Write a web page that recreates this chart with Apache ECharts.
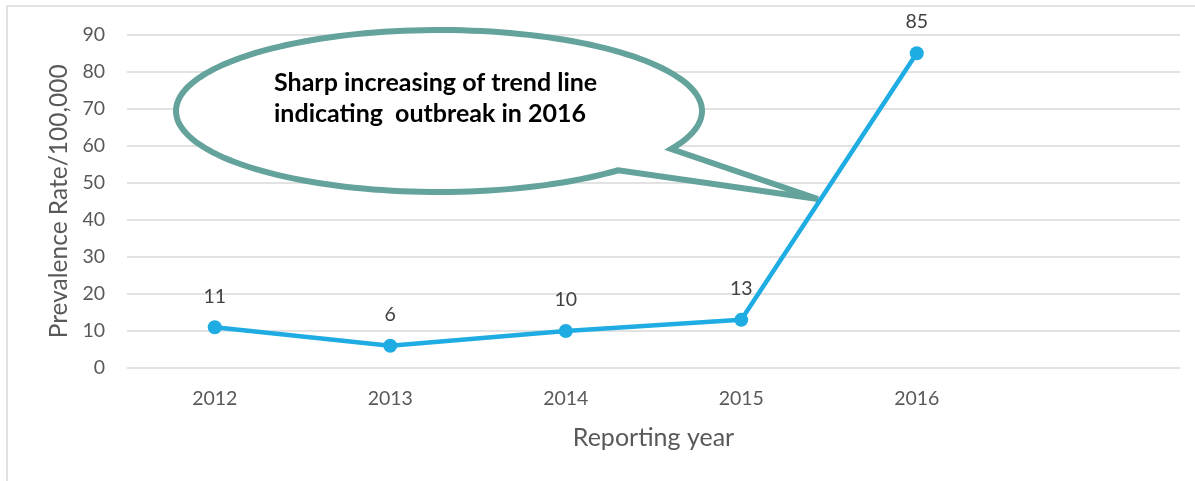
<!DOCTYPE html>
<html>
<head>
<meta charset="utf-8">
<script src="https://cdn.jsdelivr.net/npm/echarts@6/dist/echarts.min.js"></script>
<style>
  html, body { margin: 0; padding: 0; background: #ffffff; }
  #chart { width: 1195px; height: 481px; }
</style>
</head>
<body>
<div id="chart"></div>
<script>
// Reporting years (the trailing blank slot leaves room on the right)
const years = ['2012', '2013', '2014', '2015', '2016', ''];
// Prevalence rate per 100,000 population
const prevalence = [11, 6, 10, 13, 85];
// Value axis ticks
const yMin = 0;
const yMax = 90;
const yStep = 10;

const calloutText = 'Sharp increasing of trend line\nindicating  outbreak in 2016';

// Speech-bubble outline: an elliptical body with a wedge-shaped pointer.
function bubblePoints(cx, cy, rx, ry, fromDeg, toDeg, tip) {
  const pts = [];
  const steps = 160;
  for (let i = 0; i <= steps; i++) {
    const a = (fromDeg + (toDeg - fromDeg) * i / steps) * Math.PI / 180;
    pts.push([cx + rx * Math.cos(a), cy + ry * Math.sin(a)]);
  }
  pts.push(tip);
  return pts;
}

const font = 'Lato, "Open Sans", sans-serif';
const chart = echarts.init(document.getElementById('chart'));

chart.setOption({
  animation: false,
  backgroundColor: '#ffffff',
  grid: { left: 127, right: 15, top: 34.7, bottom: 113 },
  xAxis: {
    type: 'category',
    data: years,
    boundaryGap: true,
    name: 'Reporting year',
    nameLocation: 'middle',
    nameGap: 57,
    nameTextStyle: { color: '#595959', fontSize: 25, fontFamily: font },
    axisLine: { show: false },
    axisTick: { show: false },
    axisLabel: { color: '#595959', fontSize: 19.5, fontFamily: font, margin: 21 }
  },
  yAxis: {
    type: 'value',
    min: yMin,
    max: yMax,
    interval: yStep,
    name: 'Prevalence Rate/100,000',
    nameLocation: 'middle',
    nameGap: 52,
    nameRotate: 90,
    nameTextStyle: { color: '#595959', fontSize: 24.5, fontFamily: font },
    axisLine: { show: false },
    axisTick: { show: false },
    axisLabel: { color: '#595959', fontSize: 19.5, fontFamily: font, margin: 22 },
    splitLine: { lineStyle: { color: '#d9d9d9', width: 1.5 } }
  },
  series: [{
    type: 'line',
    data: prevalence,
    z: 3,
    symbol: 'circle',
    symbolSize: 14,
    lineStyle: { color: '#1eace3', width: 4.5 },
    itemStyle: { color: '#1eace3' },
    label: {
      show: true,
      position: 'top',
      distance: 14,
      color: '#404040',
      fontSize: 19.5,
      fontFamily: font
    }
  }],
  graphic: [
    // chart frame
    {
      type: 'polyline',
      z: 0,
      silent: true,
      shape: { points: [[7, 490], [7, 6], [1200, 6]] },
      style: { stroke: '#d9d9d9', lineWidth: 1.5, fill: null }
    },
    // speech-bubble callout
    {
      type: 'polygon',
      z: 1,
      silent: true,
      shape: { points: bubblePoints(439, 111, 263, 81, 47, 388, [818, 199]) },
      style: { fill: '#ffffff', stroke: '#64a39c', lineWidth: 6, lineJoin: 'miter' }
    },
    {
      type: 'text',
      z: 1,
      silent: true,
      left: 274,
      top: 67,
      style: {
        text: calloutText,
        fill: '#000000',
        font: 'bold 25px ' + font,
        lineHeight: 31
      }
    }
  ]
});
</script>
</body>
</html>
